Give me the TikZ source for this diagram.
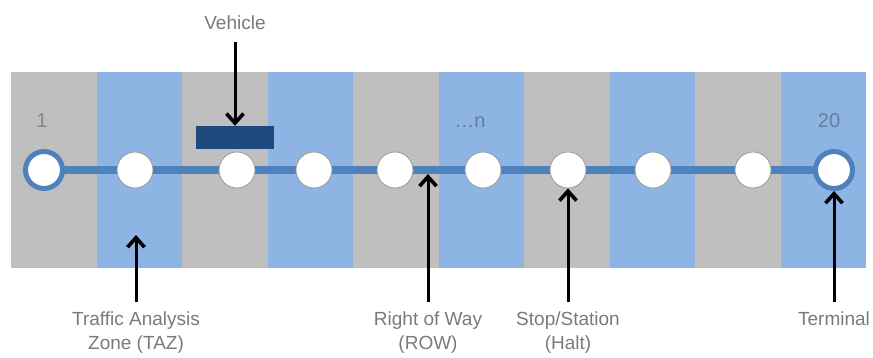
\documentclass[tikz,border=0pt]{standalone}
\usepackage{fontspec}
\setmainfont{Liberation Sans}
\usetikzlibrary{arrows.meta}
\definecolor{graystripe}{HTML}{BFBFBF}
\definecolor{bluestripe}{HTML}{8DB4E2}
\definecolor{linecol}{HTML}{4F81BD}
\definecolor{vehcol}{HTML}{1F497D}
\definecolor{labcol}{HTML}{7A7A7A}
\definecolor{stopedge}{HTML}{9A9A9A}
\pgfdeclarelayer{stripes}
\pgfdeclarelayer{lines}
\pgfsetlayers{stripes,lines,main}
\begin{document}
\begin{tikzpicture}[x=1pt,y=-1pt,
  stopnode/.style={circle,fill=white,draw=stopedge,line width=0.8pt,minimum size=36pt,inner sep=0pt},
  termnode/.style={circle,fill=white,draw=linecol,line width=5pt,minimum size=37pt,inner sep=0pt},
  lab/.style={text=labcol,font=\fontsize{19}{24}\selectfont,align=center,inner xsep=0pt,inner ysep=10pt},
  numlab/.style={text=black,text opacity=0.3,font=\fontsize{20}{24}\selectfont,inner sep=0pt,anchor=base},
  arr/.style={draw=black,line width=3pt,-{Straight Barb[length=9.5pt,width=17pt,line width=3.6pt]}},
  vehbox/.style={fill=vehcol,minimum width=78pt,minimum height=23pt,inner sep=0pt}]
\useasboundingbox (0,0) rectangle (873,358);
% stripes
\begin{pgfonlayer}{stripes}
\foreach \i in {0,...,9}{
  \pgfmathsetmacro{\xa}{11+85.5*\i}
  \pgfmathsetmacro{\xb}{11+85.5*(\i+1)}
  \ifodd\i
    \fill[bluestripe] (\xa,72) rectangle (\xb,268);
  \else
    \fill[graystripe] (\xa,72) rectangle (\xb,268);
  \fi
}
\end{pgfonlayer}
% stops
\node[termnode] (c0) at (44,170) {};
\node[stopnode] (c1) at (135,170) {};
\node[stopnode] (c2) at (237,170) {};
\node[stopnode] (c3) at (314,170) {};
\node[stopnode] (c4) at (395,170) {};
\node[stopnode] (c5) at (483,170) {};
\node[stopnode] (c6) at (568,170) {};
\node[stopnode] (c7) at (653,170) {};
\node[stopnode] (c8) at (753,170) {};
\node[termnode] (c9) at (834,170) {};
% right of way line
\begin{pgfonlayer}{lines}
\draw[linecol,line width=8pt] (c0.center) -- (c9.center);
\end{pgfonlayer}
% vehicle
\node[vehbox] (veh) at (235,137.5) {};
% numbers
\node[numlab] (n1) at (42,128) {1};
\node[numlab] (nn) at (470,128) {…n};
\node[numlab] (n20) at (829,128) {20};
% labels
\node[lab,anchor=south,inner ysep=12pt] (vlab) at (235,42) {Vehicle};
\node[lab,anchor=north] (taz) at (136,302) {Traffic Analysis\\Zone (TAZ)};
\node[lab,anchor=north] (row) at (428,302) {Right of Way\\(ROW)};
\node[lab,anchor=north] (halt) at (568,302) {Stop/Station\\(Halt)};
\node[lab,anchor=north] (term) at (834,302) {Terminal};
% arrow targets
\coordinate (taztip) at (136,235);
\coordinate (rowtip) at (428,174);
% arrows
\draw[arr] (vlab.south) -- (veh.north);
\draw[arr] (taz.north) -- (taztip);
\draw[arr] (row.north) -- (rowtip);
\draw[arr] (halt.north) -- (c6.south);
\draw[arr] (term.north) -- (c9.south);
\end{tikzpicture}
\end{document}
